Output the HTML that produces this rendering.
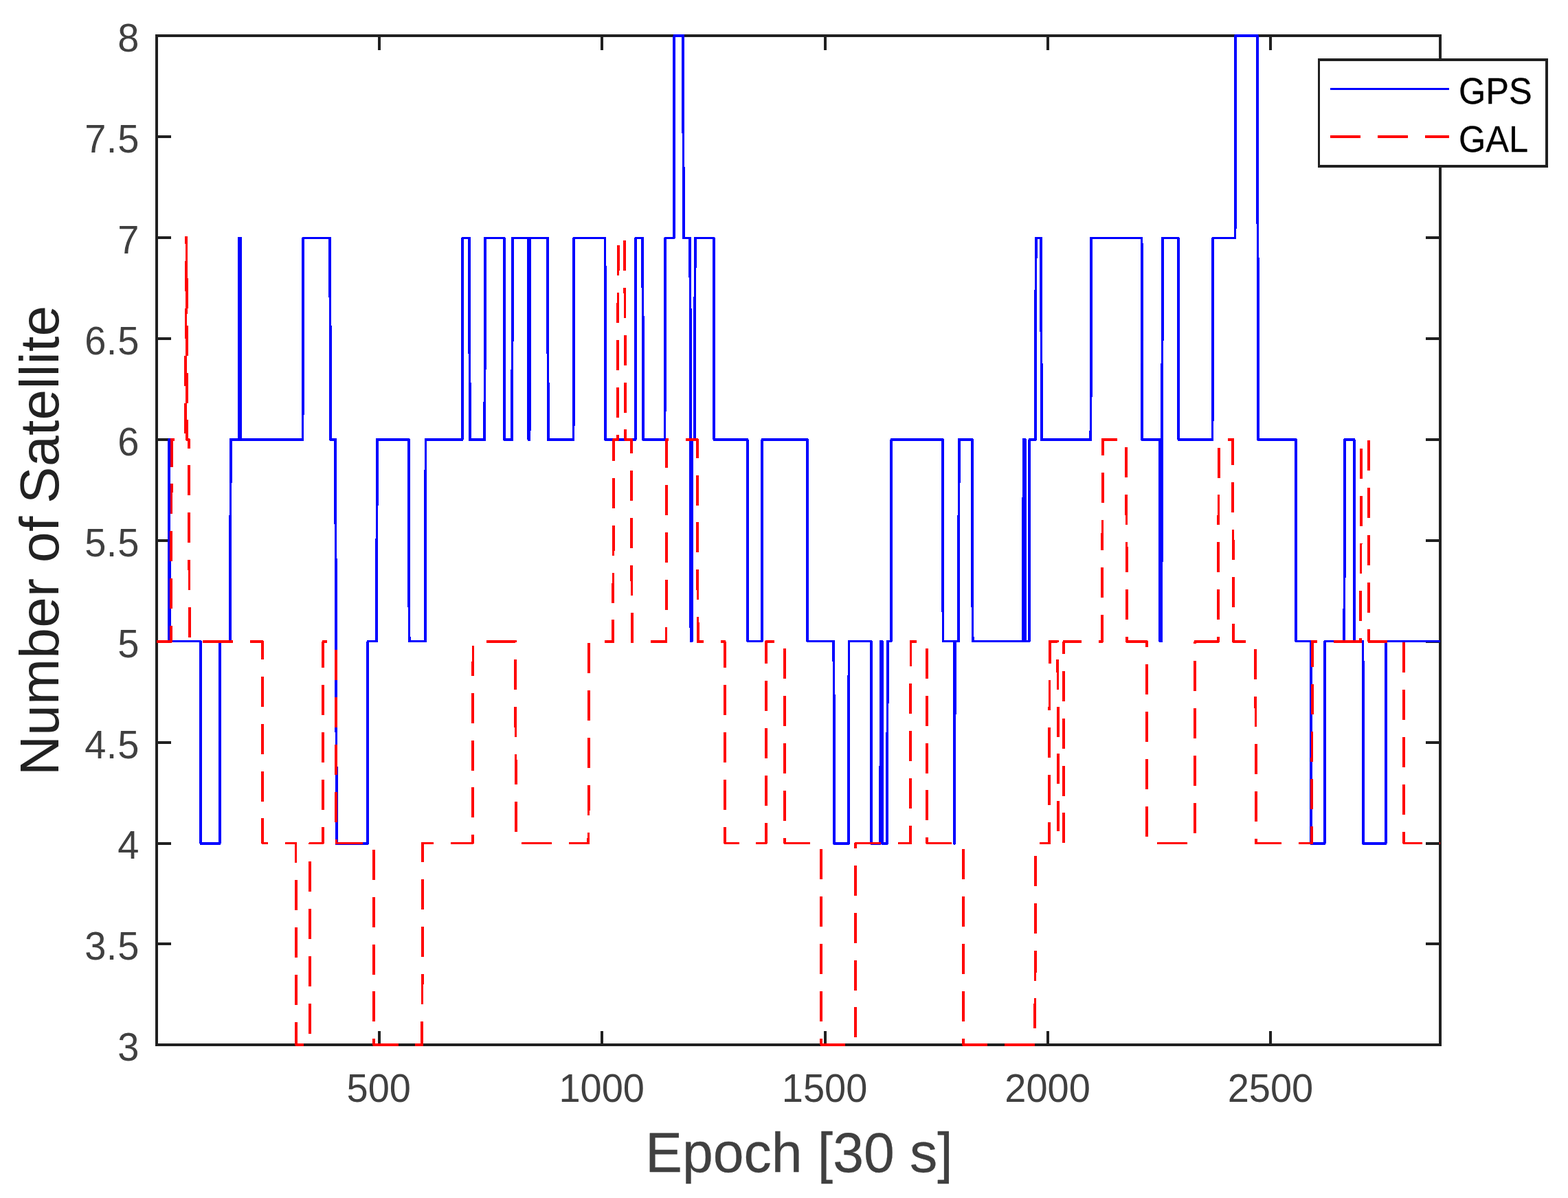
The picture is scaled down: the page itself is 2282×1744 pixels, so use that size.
<!DOCTYPE html>
<html lang="en"><head><meta charset="utf-8"><title>Number of Satellite</title>
<style>html,body{margin:0;padding:0;background:#fff}svg{display:block}text{font-family:"Liberation Sans",Arial,Helvetica,sans-serif}</style></head><body>
<svg width="2282" height="1744" viewBox="0 0 2282 1744">
<rect width="2282" height="1744" fill="#fff"/>
<g fill="none" stroke="#202020" stroke-width="4" shape-rendering="crispEdges">
<rect x="228.0" y="52.0" width="1868.0" height="1469.0"/>
<line x1="552" y1="1521.0" x2="552" y2="1501.0"/>
<line x1="552" y1="52.0" x2="552" y2="73.0"/>
<line x1="876" y1="1521.0" x2="876" y2="1501.0"/>
<line x1="876" y1="52.0" x2="876" y2="73.0"/>
<line x1="1201" y1="1521.0" x2="1201" y2="1501.0"/>
<line x1="1201" y1="52.0" x2="1201" y2="73.0"/>
<line x1="1525" y1="1521.0" x2="1525" y2="1501.0"/>
<line x1="1525" y1="52.0" x2="1525" y2="73.0"/>
<line x1="1849" y1="1521.0" x2="1849" y2="1501.0"/>
<line x1="1849" y1="52.0" x2="1849" y2="73.0"/>
<line x1="228.0" y1="1374" x2="249.0" y2="1374"/>
<line x1="2096.0" y1="1374" x2="2075.0" y2="1374"/>
<line x1="228.0" y1="1228" x2="249.0" y2="1228"/>
<line x1="2096.0" y1="1228" x2="2075.0" y2="1228"/>
<line x1="228.0" y1="1081" x2="249.0" y2="1081"/>
<line x1="2096.0" y1="1081" x2="2075.0" y2="1081"/>
<line x1="228.0" y1="934" x2="249.0" y2="934"/>
<line x1="2096.0" y1="934" x2="2075.0" y2="934"/>
<line x1="228.0" y1="787" x2="249.0" y2="787"/>
<line x1="2096.0" y1="787" x2="2075.0" y2="787"/>
<line x1="228.0" y1="640" x2="249.0" y2="640"/>
<line x1="2096.0" y1="640" x2="2075.0" y2="640"/>
<line x1="228.0" y1="493" x2="249.0" y2="493"/>
<line x1="2096.0" y1="493" x2="2075.0" y2="493"/>
<line x1="228.0" y1="346" x2="249.0" y2="346"/>
<line x1="2096.0" y1="346" x2="2075.0" y2="346"/>
<line x1="228.0" y1="199" x2="249.0" y2="199"/>
<line x1="2096.0" y1="199" x2="2075.0" y2="199"/>
</g>
<g fill="none" stroke-linejoin="round" shape-rendering="crispEdges">
<polyline stroke="#0000ff" stroke-width="3.9" points="228.00,933.5 245.52,933.5 246.17,640.0 246.17,640.0 246.82,933.5 291.78,933.5 292.43,1228.0 319.62,1228.0 320.26,933.5 335.06,933.5 335.71,640.0 347.71,640.0 348.10,346.5 349.92,346.5 350.31,640.0 440.49,640.0 441.14,346.5 480.27,346.5 480.92,640.0 488.18,640.0 488.83,933.5 489.16,933.5 489.81,1228.0 534.83,1228.0 535.48,933.5 548.14,933.5 548.78,640.0 594.92,640.0 595.57,933.5 618.92,933.5 619.57,640.0 672.65,640.0 673.30,346.5 683.09,346.5 683.74,640.0 705.35,640.0 706.00,346.5 733.57,346.5 734.22,640.0 745.25,640.0 745.90,346.5 769.06,346.5 769.39,640.0 770.56,640.0 770.88,346.5 797.09,346.5 797.74,640.0 834.53,640.0 835.18,346.5 880.47,346.5 881.12,640.0 924.66,640.0 925.30,346.5 935.30,346.5 935.95,640.0 967.48,640.0 968.13,346.5 980.78,346.5 981.43,52.0 994.15,52.0 994.79,346.5 1004.33,346.5 1004.98,640.0 1004.85,640.0 1005.50,933.5 1006.80,933.5 1007.45,640.0 1011.02,640.0 1011.66,346.5 1038.66,346.5 1039.31,640.0 1087.58,640.0 1088.23,933.5 1108.80,933.5 1109.44,640.0 1174.78,640.0 1175.43,933.5 1213.39,933.5 1214.04,1228.0 1234.93,1228.0 1235.58,933.5 1267.76,933.5 1268.41,1228.0 1281.13,1228.0 1282.03,933.5 1283.85,933.5 1284.11,1228.0 1291.12,1228.0 1291.77,933.5 1296.76,933.5 1297.41,640.0 1371.90,640.0 1372.55,933.5 1388.70,933.5 1388.83,1228.0 1388.83,1228.0 1390.00,933.5 1395.06,933.5 1395.71,640.0 1414.92,640.0 1415.57,933.5 1489.01,933.5 1489.66,640.0 1491.74,640.0 1492.39,933.5 1497.71,933.5 1498.36,640.0 1506.99,640.0 1507.64,346.5 1515.16,346.5 1515.81,640.0 1587.44,640.0 1588.09,346.5 1661.54,346.5 1662.19,640.0 1688.01,640.0 1688.27,933.5 1690.22,933.5 1691.13,640.0 1691.13,640.0 1692.03,346.5 1714.74,346.5 1715.39,640.0 1764.51,640.0 1765.16,346.5 1797.54,346.5 1798.18,52.0 1829.85,52.0 1830.50,346.5 1830.50,346.5 1831.14,640.0 1885.78,640.0 1886.43,933.5 1907.64,933.5 1908.29,1228.0 1927.63,1228.0 1928.28,933.5 1956.37,933.5 1957.02,640.0 1970.64,640.0 1971.29,933.5 1983.49,933.5 1984.14,1228.0 2016.65,1228.0 2017.30,933.5 2096.00,933.5"/>
<polyline stroke="#ff0000" stroke-width="3.9" stroke-dasharray="44 24.895" points="228.00,934.0 249.09,934.0 249.74,640.0 270.17,640.0 270.82,346.0 271.47,346.0 272.12,640.0 275.04,640.0 275.69,934.0 381.77,934.0 382.42,1227.5 430.50,1227.5 431.15,1521.0 450.75,1521.0 451.39,1227.5 469.69,1227.5 470.34,934.0 488.83,934.0 489.48,1227.5 543.53,1227.5 544.18,1521.0 614.38,1521.0 615.03,1227.5 687.90,1227.5 688.54,934.0 750.18,934.0 750.83,1227.5 856.46,1227.5 857.11,934.0 892.28,934.0 892.93,640.0 899.03,640.0 899.68,346.0 909.28,346.0 909.93,640.0 919.01,640.0 919.66,934.0 969.49,934.0 970.14,640.0 1014.97,640.0 1015.62,934.0 1054.68,934.0 1055.33,1227.5 1114.57,1227.5 1115.22,934.0 1141.56,934.0 1142.21,1227.5 1194.77,1227.5 1195.42,1521.0 1244.73,1521.0 1245.38,1227.5 1324.92,1227.5 1325.57,934.0 1348.74,934.0 1349.38,1227.5 1401.55,1227.5 1402.20,1521.0 1506.34,1521.0 1506.99,1227.5 1527.04,1227.5 1527.68,934.0 1539.36,934.0 1540.01,1227.5 1547.73,1227.5 1548.38,934.0 1604.12,934.0 1604.77,640.0 1639.22,640.0 1639.87,934.0 1668.74,934.0 1669.39,1227.5 1738.75,1227.5 1739.40,934.0 1773.07,934.0 1773.72,640.0 1794.23,640.0 1794.88,934.0 1827.25,934.0 1827.90,1227.5 1909.20,1227.5 1909.85,934.0 1980.25,934.0 1980.90,640.0 1991.67,640.0 1992.32,934.0 2042.67,934.0 2043.31,1227.5 2096.00,1227.5"/>
</g>
<text transform="translate(551.27,1603.50) scale(1,1.01)" font-size="56" fill="#404040" text-anchor="middle">500</text>
<text transform="translate(875.69,1603.50) scale(1,1.01)" font-size="56" fill="#404040" text-anchor="middle">1000</text>
<text transform="translate(1200.11,1603.50) scale(1,1.01)" font-size="56" fill="#404040" text-anchor="middle">1500</text>
<text transform="translate(1524.52,1603.50) scale(1,1.01)" font-size="56" fill="#404040" text-anchor="middle">2000</text>
<text transform="translate(1848.94,1603.50) scale(1,1.01)" font-size="56" fill="#404040" text-anchor="middle">2500</text>
<text transform="translate(202.40,1544.20) scale(1,1.01)" font-size="56" fill="#404040" text-anchor="end">3</text>
<text transform="translate(0,1397.30) scale(1,1.01)" font-size="56" fill="#404040" x="123.25 154.70 171.26">3.5</text>
<text transform="translate(202.40,1250.40) scale(1,1.01)" font-size="56" fill="#404040" text-anchor="end">4</text>
<text transform="translate(0,1103.50) scale(1,1.01)" font-size="56" fill="#404040" x="123.25 154.70 171.26">4.5</text>
<text transform="translate(202.40,956.60) scale(1,1.01)" font-size="56" fill="#404040" text-anchor="end">5</text>
<text transform="translate(0,809.70) scale(1,1.01)" font-size="56" fill="#404040" x="123.25 154.70 171.26">5.5</text>
<text transform="translate(202.40,662.80) scale(1,1.01)" font-size="56" fill="#404040" text-anchor="end">6</text>
<text transform="translate(0,515.90) scale(1,1.01)" font-size="56" fill="#404040" x="123.25 154.70 171.26">6.5</text>
<text transform="translate(202.40,369.00) scale(1,1.01)" font-size="56" fill="#404040" text-anchor="end">7</text>
<text transform="translate(0,222.10) scale(1,1.01)" font-size="56" fill="#404040" x="123.25 154.70 171.26">7.5</text>
<text transform="translate(202.40,75.20) scale(1,1.01)" font-size="56" fill="#404040" text-anchor="end">8</text>
<text transform="translate(1163.00,1706.00) scale(1,1.01)" font-size="80.5" fill="#404040" text-anchor="middle" stroke="#404040" stroke-width="0.3" stroke-linejoin="round">Epoch [30 s]</text>
<text transform="translate(84.70,786.80) rotate(-90)" font-size="80.3" fill="#222222" text-anchor="middle" letter-spacing="0.3">Number of <tspan dx="-4">Satellite</tspan></text>
<g shape-rendering="crispEdges">
<rect x="1918" y="85" width="335" height="159" fill="#202020"/>
<rect x="1921" y="89" width="328" height="151" fill="#fff"/>
</g>
<g fill="none" shape-rendering="crispEdges">
<line x1="1936" y1="129.5" x2="2109" y2="129.5" stroke="#0000ff" stroke-width="3.4"/>
<line x1="1936" y1="199" x2="2109" y2="199" stroke="#ff0000" stroke-width="4" stroke-dasharray="44 25"/>
</g>
<text transform="translate(2123.00,151.00) scale(1,1.045)" font-size="50.5" fill="#000" text-anchor="start" stroke="#000" stroke-width="0.3" stroke-linejoin="round">GPS</text>
<text transform="translate(2123.00,221.00) scale(1,1.045)" font-size="50.5" fill="#000" text-anchor="start" stroke="#000" stroke-width="0.3" stroke-linejoin="round">GAL</text>
</svg></body></html>
